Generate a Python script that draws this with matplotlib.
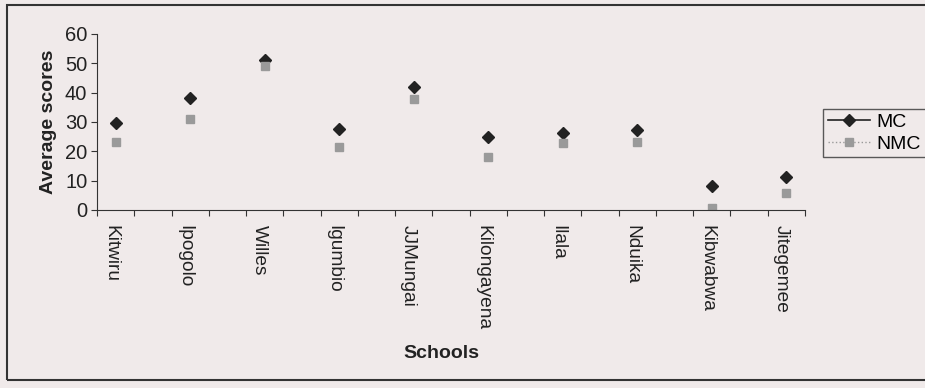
import numpy as np
import matplotlib.pyplot as plt
from matplotlib.patches import Rectangle

plt.rcParams["font.family"] = ["Liberation Sans", "DejaVu Sans"]

schools = ["Kitwiru", "Ipogolo", "Willes", "Igumbio", "JJMungai",
           "Kilongayena", "Ilala", "Nduika", "Kibwabwa", "Jitegemee"]
mc = [29.6, 38.3, 51.0, 27.6, 41.8, 24.8, 26.4, 27.3, 8.3, 11.1]
nmc = [23.3, 31.0, 49.2, 21.6, 37.7, 18.2, 23.0, 23.3, 0.6, 5.9]

bg = "#f0eaea"
fig = plt.figure(figsize=(9.25, 3.88), dpi=100)
fig.patch.set_facecolor(bg)
ax = fig.add_axes([0.1049, 0.4588, 0.7651, 0.4536])
ax.set_facecolor(bg)

x = np.arange(len(schools))
ax.plot(x, mc, linestyle="none", marker="D", markersize=6.5,
        color="#222222", label="MC")
ax.plot(x, nmc, linestyle="none", marker="s", markersize=6,
        color="#9a9a9a", label="NMC")

ax.set_xlim(-0.25, 9.25)
ax.set_ylim(0, 60)
ax.set_yticks(range(0, 61, 10))
ax.set_xticks(np.arange(-0.25, 9.26, 0.5))
ax.set_xticklabels([])
ax.tick_params(axis="x", length=4, direction="out", color="#333333")
ax.tick_params(axis="y", length=4, direction="out", labelsize=14.5,
               color="#333333", labelcolor="#222222", pad=3)
for s in ["top", "right"]:
    ax.spines[s].set_visible(False)
for s in ["left", "bottom"]:
    ax.spines[s].set_color("#333333")

for xi, name in zip(x, schools):
    ax.text(xi - 0.07, -5, name, rotation=270, ha="center", va="top",
            fontsize=13.8, color="#222222")

ax.set_ylabel("Average scores", fontsize=14, fontweight="bold",
              color="#222222", labelpad=6)
fig.text(0.477, 0.088, "Schools", ha="center", va="center",
         fontsize=14, fontweight="bold", color="#222222")

# legend with lines like the Excel one
h1, = ax.plot([], [], color="#222222", marker="D", markersize=6, lw=1.2)
h2, = ax.plot([], [], color="#9a9a9a", marker="s", markersize=6, lw=1,
              linestyle=":")
leg = fig.legend([h1, h2], ["MC", "NMC"], loc="upper left",
                 bbox_to_anchor=(0.879, 0.745), frameon=True, fancybox=False,
                 fontsize=14, handlelength=2.2, borderpad=0.25,
                 labelspacing=0.2, handletextpad=0.3)
leg.get_frame().set_edgecolor("#333333")
leg.get_frame().set_facecolor(bg)
leg.get_frame().set_linewidth(1)

fig.patches.append(Rectangle((7 / 925, 8 / 388), 1.0, 375 / 388,
                             transform=fig.transFigure, fill=False,
                             edgecolor="#333333", linewidth=1.5))

fig.savefig("out.png", dpi=100, facecolor=bg)
